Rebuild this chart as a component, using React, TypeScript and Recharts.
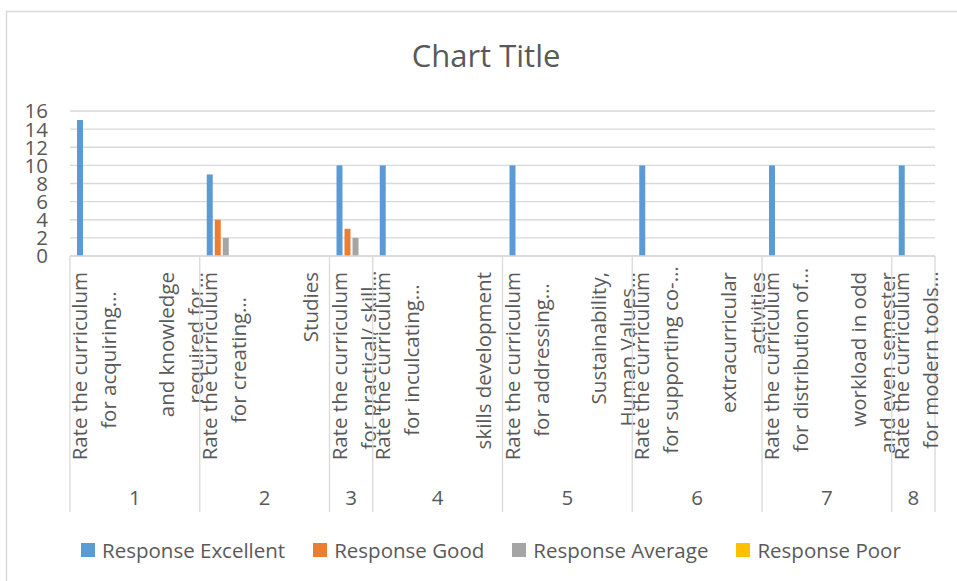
import React from 'react';
import { BarChart, Bar, XAxis, YAxis, CartesianGrid } from 'recharts';

// outer level of the category axis: question number for each slot
const groupOfSlot = ['1', '1', '1', '2', '2', '2', '3', '4', '4', '4', '5', '5', '5', '6', '6', '6', '7', '7', '7', '8'];

// inner level: wrapped label text per slot ("\n" = line break)
const slotLabels = [
  'Rate the curriculum\nfor acquiring…',
  '',
  'and knowledge\nrequired for…',
  'Rate the curriculum\nfor creating…',
  '',
  'Studies',
  'Rate the curriculum\nfor practical/ skill…',
  'Rate the curriculum\nfor inculcating…',
  '',
  'skills development',
  'Rate the curriculum\nfor addressing…',
  '',
  'Sustainability,\nHuman Values…',
  'Rate the curriculum\nfor supporting co-…',
  '',
  'extracurricular\nactivities',
  'Rate the curriculum\nfor distribution of…',
  '',
  'workload in odd\nand even semester',
  'Rate the curriculum\nfor modern tools…',
];

const excellent = [15, 0, 0, 9, 0, 0, 10, 10, 0, 0, 10, 0, 0, 10, 0, 0, 10, 0, 0, 10];
const good = [0, 0, 0, 4, 0, 0, 3, 0, 0, 0, 0, 0, 0, 0, 0, 0, 0, 0, 0, 0];
const average = [0, 0, 0, 2, 0, 0, 2, 0, 0, 0, 0, 0, 0, 0, 0, 0, 0, 0, 0, 0];
const poor = [0, 0, 0, 0, 0, 0, 0, 0, 0, 0, 0, 0, 0, 0, 0, 0, 0, 0, 0, 0];

const yTicks = [0, 2, 4, 6, 8, 10, 12, 14, 16];

const seriesKeys = ['excellent', 'good', 'average', 'poor'];
const seriesNames = ['Response Excellent', 'Response Good', 'Response Average', 'Response Poor'];
const seriesColors = ['#5b9bd5', '#ed7d31', '#a5a5a5', '#ffc000'];

const data = slotLabels.map((label, i) => ({
  slot: String(i),
  label,
  group: groupOfSlot[i],
  excellent: excellent[i],
  good: good[i],
  average: average[i],
  poor: poor[i],
}));

// layout
const W = 957;
const H = 581;
const PLOT_LEFT = 70;
const PLOT_RIGHT = 935;
const PLOT_TOP = 111;
const PLOT_BOTTOM = 256;
const DIVIDER_BOTTOM = 512;
const SLOT = (PLOT_RIGHT - PLOT_LEFT) / slotLabels.length;
const LINE_STEP = 29;
const FONT = '"Open Sans", sans-serif';
const TEXT = '#595959';
const RULE = '#d9d9d9';

const CategoryTick = (props: any) => {
  const { x, payload } = props;
  const i = Number(payload.value);
  const n = slotLabels.length;
  const lines = slotLabels[i] ? slotLabels[i].split('\n') : [];
  const isStart = i === 0 || groupOfSlot[i] !== groupOfSlot[i - 1];
  const left = x - SLOT / 2;
  let groupLen = 0;
  if (isStart) {
    let k = i;
    while (k < n && groupOfSlot[k] === groupOfSlot[i]) {
      groupLen++;
      k++;
    }
  }
  return (
    <g>
      {isStart && (
        <line x1={left} x2={left} y1={PLOT_BOTTOM} y2={DIVIDER_BOTTOM} stroke={RULE} strokeWidth={1.3} />
      )}
      {i === n - 1 && (
        <line x1={x + SLOT / 2} x2={x + SLOT / 2} y1={PLOT_BOTTOM} y2={DIVIDER_BOTTOM} stroke={RULE} strokeWidth={1.3} />
      )}
      {lines.map((t, j) => {
        const lx = x + (j - (lines.length - 1) / 2) * LINE_STEP + 2;
        const centered = isStart && j > 0;
        const ly = centered ? 360 : 272;
        return (
          <text
            key={j}
            x={lx}
            y={ly}
            transform={`rotate(-90 ${lx} ${ly})`}
            textAnchor={centered ? 'middle' : 'end'}
            dominantBaseline="central"
            fontFamily={FONT}
            fontSize={20.5}
            fill={TEXT}
          >
            {t}
          </text>
        );
      })}
      {isStart && (
        <text
          x={left + (groupLen * SLOT) / 2}
          y={498}
          dy="0.36em"
          textAnchor="middle"
          fontFamily={FONT}
          fontSize={20.5}
          fill={TEXT}
        >
          {groupOfSlot[i]}
        </text>
      )}
    </g>
  );
};

const ValueTick = (props: any) => {
  const { y, payload } = props;
  return (
    <text x={PLOT_LEFT - 22} y={y} dy="0.36em" textAnchor="end" fontFamily={FONT} fontSize={20.5} fill={TEXT}>
      {payload.value}
    </text>
  );
};

export default function App() {
  return (
    <div style={{ position: 'absolute', left: 0, top: 0, width: W, height: H, overflow: 'hidden', background: '#fff' }}>
      <svg width={W} height={H} style={{ position: 'absolute', left: 0, top: 0 }}>
        <rect x={6.5} y={11.5} width={1200} height={1200} fill="none" stroke={RULE} strokeWidth={1.5} />
        <text x={486} y={67} textAnchor="middle" fontFamily={FONT} fontSize={31} fill={TEXT}>
          Chart Title
        </text>
      </svg>
      <div style={{ position: 'absolute', left: 0, top: 0 }}>
        <BarChart
          width={W}
          height={H}
          data={data}
          margin={{ top: PLOT_TOP, right: W - PLOT_RIGHT, bottom: 0, left: 0 }}
          barSize={6}
          barGap={2}
        >
          <CartesianGrid vertical={false} stroke={RULE} strokeWidth={1.3} />
          <XAxis
            dataKey="slot"
            type="category"
            height={H - PLOT_BOTTOM}
            interval={0}
            tickLine={false}
            axisLine={{ stroke: RULE, strokeWidth: 1.3 }}
            tick={<CategoryTick />}
          />
          <YAxis
            type="number"
            domain={[0, 16]}
            ticks={yTicks}
            interval={0}
            width={PLOT_LEFT}
            axisLine={false}
            tickLine={false}
            tick={<ValueTick />}
          />
          {seriesKeys.map((k, s) => (
            <Bar key={k} dataKey={k} name={seriesNames[s]} fill={seriesColors[s]} isAnimationActive={false} />
          ))}
        </BarChart>
      </div>
      <div
        style={{
          position: 'absolute',
          left: 81,
          top: 536,
          display: 'flex',
          alignItems: 'center',
          fontFamily: FONT,
          fontSize: 20.5,
          color: TEXT,
          lineHeight: '28px',
          whiteSpace: 'nowrap',
        }}
      >
        {seriesNames.map((name, s) => (
          <div key={name} style={{ display: 'flex', alignItems: 'center', marginRight: 28 }}>
            <span style={{ display: 'inline-block', width: 14, height: 14, background: seriesColors[s], marginRight: 7 }} />
            <span>{name}</span>
          </div>
        ))}
      </div>
    </div>
  );
}
